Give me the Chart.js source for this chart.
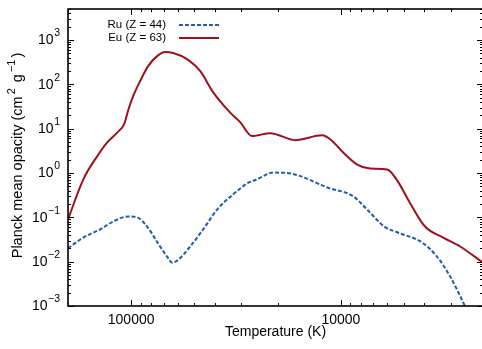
<!DOCTYPE html>
<html>
<head>
<meta charset="utf-8">
<script src="https://cdn.jsdelivr.net/npm/chart.js@4.4.1/dist/chart.umd.min.js"></script>
<style>
  html, body { margin: 0; padding: 0; background: #fff; overflow: hidden; }
  #wrap { width: 484px; height: 349px; }
</style>
</head>
<body>
<div id="wrap"><canvas id="opacityChart" width="484" height="349"></canvas></div>
<script>
// temperature grid (K) and Planck mean opacity (cm^2 g^-1)
const ruTemp    = [200000, 169000, 141000, 122000, 103000, 93600, 83900, 75200, 67400, 63700, 59700, 52300, 45400, 38900, 32600, 27700, 25100, 21000, 18000, 15600, 11600, 8740, 7500, 6150, 5390, 4100, 3480, 3010, 2610, 2400];
const ruOpacity = [0.02, 0.035, 0.053, 0.08, 0.105, 0.1, 0.062, 0.028, 0.013, 0.0095, 0.011, 0.022, 0.053, 0.15, 0.33, 0.6, 0.72, 1.02, 1.0, 0.85, 0.47, 0.3, 0.15, 0.06, 0.046, 0.027, 0.013, 0.0046, 0.0012, 0.0005];
const euTemp    = [200000, 169000, 145000, 130000, 115000, 108000, 103000, 97800, 90600, 83000, 75200, 68900, 63100, 54100, 46900, 40600, 33700, 30200, 26500, 21700, 16500, 12300, 11200, 9750, 8360, 7250, 6010, 5390, 4680, 3970, 3250, 2700, 2100];
const euOpacity = [0.09, 0.72, 2.4, 4.9, 8.7, 12.6, 27, 54, 118, 257, 433, 535, 510, 370, 200, 66, 23, 14, 6.8, 7.9, 5.5, 7.1, 5.7, 2.9, 1.55, 1.26, 1.2, 0.68, 0.21, 0.062, 0.035, 0.022, 0.0095];

const seriesLabels = ['Ru (Z = 44)', 'Eu (Z = 63)'];
const xTickLabels  = [100000, 10000];
// y title as [text, superscript?] pieces
const yTitleParts  = [['Planck mean opacity (cm', false], ['2', true], [' g', false], ['−1', true], [')', false]];

const FONT = "'Liberation Sans', Arial, Helvetica, sans-serif";
Chart.defaults.font.family = FONT;
Chart.defaults.color = '#000';

const isDecade = v => {
    const e = Math.log10(v);
    return Math.abs(e - Math.round(e)) < 1e-9;
};

// 1..9 x 10^n ticks inside [min, max]
function logTicks(scale) {
    const out = [];
    for (let e = Math.floor(Math.log10(scale.min)); e <= Math.ceil(Math.log10(scale.max)); e++) {
        for (let m = 1; m <= 9; m++) {
            const v = m * Math.pow(10, e);
            if (v >= scale.min * 0.9999 && v <= scale.max * 1.0001) out.push({ value: v });
        }
    }
    scale.ticks = out;
}

// text with superscripts, centred on (cx, cy)
function drawRich(ctx, parts, cx, cy, size, supSize, rise) {
    const widths = parts.map(([t, sup]) => {
        ctx.font = (sup ? supSize : size) + 'px ' + FONT;
        return ctx.measureText(t).width + (sup ? 4 : 0);
    });
    let x = cx - widths.reduce((a, b) => a + b, 0) / 2;
    parts.forEach(([t, sup], i) => {
        ctx.font = (sup ? supSize : size) + 'px ' + FONT;
        ctx.fillText(t, x + (sup ? 2 : 0), cy - (sup ? rise : 0));
        x += widths[i];
    });
}

// gnuplot-like frame with inward ticks on all four sides, plus 10^n labels
const frameTicks = {
    id: 'frameTicks',
    afterDatasetsDraw(chart) {
        const { ctx, chartArea: a, scales: { x, y } } = chart;
        ctx.save();
        ctx.strokeStyle = '#000';
        ctx.lineWidth = 1;
        ctx.beginPath();
        x.ticks.forEach(t => {
            const px = Math.round(x.getPixelForValue(t.value)) + 0.5;
            const len = isDecade(t.value) ? 6 : 3;
            ctx.moveTo(px, a.bottom); ctx.lineTo(px, a.bottom - len);
            ctx.moveTo(px, a.top);    ctx.lineTo(px, a.top + len);
        });
        y.ticks.forEach(t => {
            const py = Math.round(y.getPixelForValue(t.value)) + 0.5;
            const len = isDecade(t.value) ? 6 : 3;
            ctx.moveTo(a.left, py);  ctx.lineTo(a.left + len, py);
            ctx.moveTo(a.right, py); ctx.lineTo(a.right - len, py);
        });
        ctx.stroke();
        ctx.lineWidth = 1.6;
        ctx.strokeRect(a.left, a.top, a.right - a.left, a.bottom - a.top);

        // y tick labels 10^n
        ctx.fillStyle = '#000';
        ctx.textBaseline = 'middle';
        ctx.textAlign = 'left';
        y.ticks.filter(t => isDecade(t.value)).forEach(t => {
            const py = y.getPixelForValue(t.value);
            const e = Math.round(Math.log10(t.value));
            const exp = e < 0 ? '−' + (-e) : String(e);
            ctx.font = '14px ' + FONT;
            const wBase = ctx.measureText('10').width;
            ctx.font = '10.5px ' + FONT;
            const wExp = ctx.measureText(exp).width;
            const x0 = a.left - 8 - wBase - wExp - 0.5;
            ctx.font = '14px ' + FONT;
            ctx.fillText('10', x0, py + 0.5);
            ctx.font = '10.5px ' + FONT;
            ctx.fillText(exp, x0 + wBase + 0.5, py - 6.5);
        });

        // y axis title
        ctx.translate(18, (a.top + a.bottom) / 2 - 2);
        ctx.rotate(-Math.PI / 2);
        ctx.textAlign = 'left';
        drawRich(ctx, yTitleParts, 0, 0, 14.5, 11, 6);
        ctx.restore();
    }
};

// key: text right-aligned, line sample to the right
const keyBox = {
    id: 'keyBox',
    afterDraw(chart) {
        const ctx = chart.ctx;
        ctx.save();
        ctx.font = '11.5px ' + FONT;
        ctx.textAlign = 'right';
        ctx.textBaseline = 'middle';
        chart.data.datasets.forEach((ds, i) => {
            const yy = 25 + i * 13;
            ctx.fillStyle = '#000';
            ctx.fillText(ds.label, 166, yy);
            ctx.strokeStyle = ds.borderColor;
            ctx.lineWidth = ds.borderWidth;
            ctx.setLineDash(ds.borderDash || []);
            ctx.beginPath();
            ctx.moveTo(179, yy);
            ctx.lineTo(219, yy);
            ctx.stroke();
        });
        ctx.restore();
    }
};

new Chart(document.getElementById('opacityChart'), {
    type: 'line',
    data: {
        datasets: [
            {
                label: seriesLabels[0],
                data: ruTemp.map((t, i) => ({ x: t, y: ruOpacity[i] })),
                borderColor: '#1f5ead',
                borderWidth: 2,
                borderDash: [4, 2],
                pointRadius: 0,
                cubicInterpolationMode: 'monotone',
                fill: false,
            },
            {
                label: seriesLabels[1],
                data: euTemp.map((t, i) => ({ x: t, y: euOpacity[i] })),
                borderColor: '#a0101c',
                borderWidth: 2,
                pointRadius: 0,
                cubicInterpolationMode: 'monotone',
                fill: false,
            },
        ],
    },
    options: {
        responsive: false,
        animation: false,
        devicePixelRatio: 1,
        layout: { padding: { top: 9, right: 1, left: 0, bottom: 0 } },
        plugins: {
            legend: { display: false },
            tooltip: { enabled: false },
        },
        scales: {
            x: {
                type: 'logarithmic',
                reverse: true,
                min: 2100,
                max: 200000,
                afterBuildTicks: logTicks,
                afterFit: s => { s.height = 43; },
                grid: { display: false, drawTicks: false },
                border: { display: false },
                ticks: {
                    autoSkip: false,
                    maxRotation: 0,
                    padding: 6,
                    font: { size: 14 },
                    callback: v => xTickLabels.includes(v) ? String(v) : '',
                },
                title: {
                    display: true,
                    text: 'Temperature (K)',
                    font: { size: 14 },
                    padding: { top: 0, bottom: 8 },
                },
            },
            y: {
                type: 'logarithmic',
                min: 0.001,
                max: 5000,
                afterBuildTicks: logTicks,
                afterFit: s => { s.width = 68; },
                grid: { display: false, drawTicks: false },
                border: { display: false },
                ticks: { display: false },
            },
        },
    },
    plugins: [frameTicks, keyBox],
});
</script>
</body>
</html>
